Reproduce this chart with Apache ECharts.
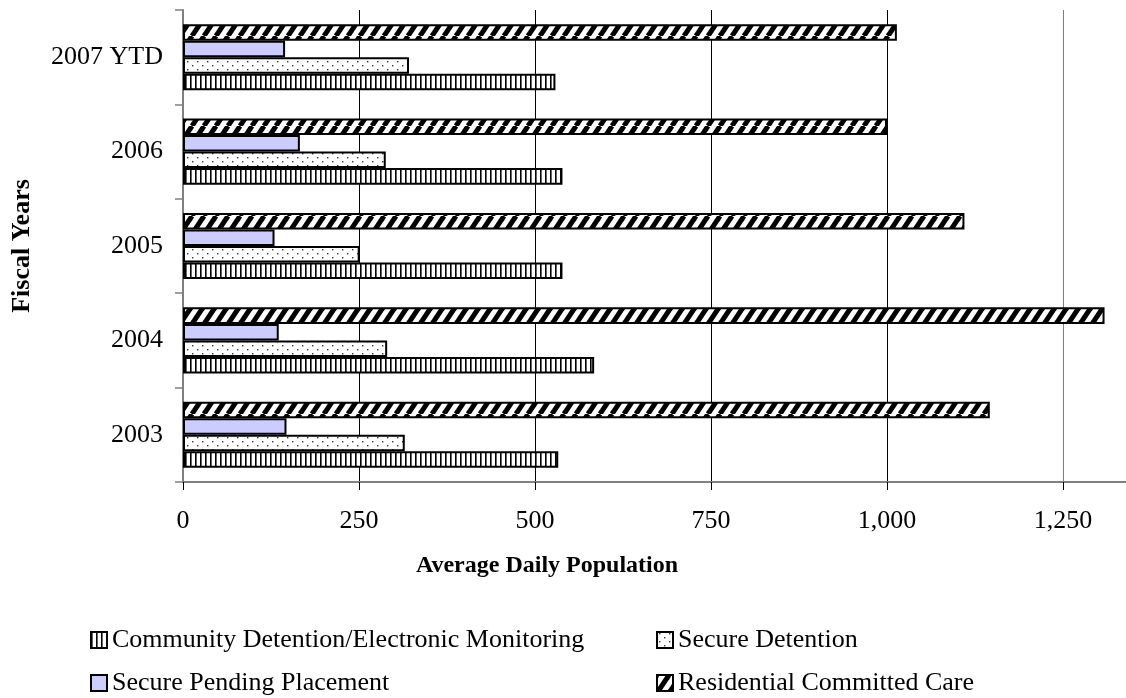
<!DOCTYPE html>
<html>
<head>
<meta charset="utf-8">
<script src="https://cdn.jsdelivr.net/npm/echarts@6/dist/echarts.min.js"></script>
<style>
html,body{margin:0;padding:0;background:#fff;}
#chart{width:1126px;height:698px;}
</style>
</head>
<body>
<div id="chart"></div>
<script>
// ---- data ----
const categories = ['2003', '2004', '2005', '2006', '2007 YTD'];
const seriesNames = [
  'Community Detention/Electronic Monitoring',
  'Secure Detention',
  'Secure Pending Placement',
  'Residential Committed Care'
];
const communityDetention = [533, 584, 539, 539, 529];
const secureDetention = [315, 290, 251, 288, 321];
const securePending = [147, 136, 130, 166, 145];
const residentialCare = [1146, 1309, 1110, 1000, 1014];
const xAxisTicks = { min: 0, max: 1500, interval: 250 };

// ---- patterns ----
function makeCanvas(w, h, draw) {
  const c = document.createElement('canvas');
  c.width = w; c.height = h;
  const ctx = c.getContext('2d');
  ctx.fillStyle = '#fff';
  ctx.fillRect(0, 0, w, h);
  draw(ctx, w, h);
  return c;
}
const vStripe = makeCanvas(5, 4, (ctx, w, h) => {
  ctx.fillStyle = '#000';
  ctx.fillRect(0, 0, 1.6, h);
});
const dots = makeCanvas(10, 8, (ctx) => {
  ctx.fillStyle = '#333';
  ctx.fillRect(2, 1, 1.4, 1.4);
  ctx.fillRect(7, 5, 1.4, 1.4);
});
const diag = makeCanvas(12, 18, (ctx, w, h) => {
  ctx.strokeStyle = '#000';
  ctx.lineWidth = 5;
  for (let k = -1; k <= 1; k++) {
    ctx.beginPath();
    ctx.moveTo(k * w, h);
    ctx.lineTo(k * w + w, 0);
    ctx.stroke();
  }
});
const fills = [
  { image: vStripe, repeat: 'repeat' },
  { image: dots, repeat: 'repeat' },
  '#CCCCFF',
  { image: diag, repeat: 'repeat' }
];
const values = [communityDetention, secureDetention, securePending, residentialCare];

const FONT = '"Liberation Serif", "Times New Roman", serif';
const chart = echarts.init(document.getElementById('chart'), null, { renderer: 'canvas' });

// ECharts places the first series at the top of each band, so add them top-down
const order = [3, 2, 1, 0];
const series = order.map(i => ({
  name: seriesNames[i],
  type: 'bar',
  data: values[i],
  barGap: '0%',
  barCategoryGap: '30%',
  itemStyle: { color: fills[i], borderColor: '#000', borderWidth: 2 },
  emphasis: { disabled: true },
  silent: true
}));

const legendPos = [
  { left: 90, top: 627 },
  { left: 656, top: 627 },
  { left: 90, top: 670 },
  { left: 656, top: 670 }
];
const legends = seriesNames.map((name, i) => ({
  data: [name],
  left: legendPos[i].left,
  top: legendPos[i].top,
  padding: 0,
  icon: 'rect',
  itemWidth: 16, itemHeight: 16,
  selectedMode: false,
  textStyle: { fontFamily: FONT, fontSize: 26, color: '#000', lineHeight: 26 }
}));

chart.setOption({
  animation: false,
  backgroundColor: '#fff',
  grid: { left: 183, top: 10, bottom: 216, width: 1056, containLabel: false, outerBoundsMode: 'none' },
  xAxis: {
    type: 'value',
    min: xAxisTicks.min,
    max: xAxisTicks.max,
    interval: xAxisTicks.interval,
    axisLine: { show: true, lineStyle: { color: '#808080', width: 2 } },
    axisTick: { show: true, length: 8, lineStyle: { color: '#000', width: 1 } },
    axisLabel: {
      margin: 26,
      fontFamily: FONT, fontSize: 26, color: '#000',
      formatter: v => v.toLocaleString('en-US')
    },
    splitLine: { show: true, lineStyle: { color: ['#000', '#000', '#000', '#000', '#000', '#808080', '#000'], width: 1 } }
  },
  yAxis: {
    type: 'category',
    data: categories,
    axisLine: { show: true, lineStyle: { color: '#808080', width: 2 } },
    axisTick: { show: true, length: 8, lineStyle: { color: '#808080', width: 1.5 } },
    axisLabel: { margin: 20, fontFamily: FONT, fontSize: 26, color: '#000' },
    splitLine: { show: false }
  },
  legend: legends,
  graphic: [
    {
      type: 'text', x: 547, y: 566,
      style: { text: 'Average Daily Population', font: 'bold 24px ' + FONT, fill: '#000', textAlign: 'center', textVerticalAlign: 'middle' }
    },
    {
      type: 'text', x: 22, y: 246, rotation: Math.PI / 2,
      style: { text: 'Fiscal Years', font: 'bold 26px ' + FONT, fill: '#000', textAlign: 'center', textVerticalAlign: 'middle' }
    }
  ],
  series: series
});
</script>
</body>
</html>
